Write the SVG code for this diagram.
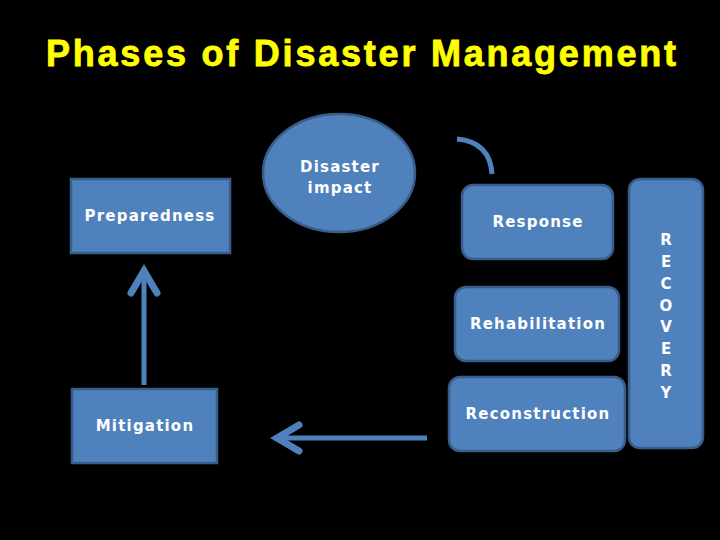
<svg xmlns="http://www.w3.org/2000/svg" width="720" height="540" viewBox="0 0 720 540">
<style>
.box{fill:#4f81bd;stroke:#385d8a;stroke-width:2.5}
.lbl{font-family:"DejaVu Sans",Verdana,sans-serif;font-weight:bold;font-size:15px;fill:#ffffff;text-anchor:middle;letter-spacing:1.2px}
.rec{font-family:"DejaVu Sans",Verdana,sans-serif;font-weight:bold;font-size:15px;fill:#ffffff;text-anchor:middle}
.conn{fill:none;stroke:#4f81bd;stroke-width:5}
</style>
<defs>
<marker id="chev" markerUnits="userSpaceOnUse" viewBox="-34 -20 40 40" markerWidth="40" markerHeight="40" refX="0" refY="0" orient="auto">
<path d="M-25,-13 L-3,0 L-25,13" fill="none" stroke="#4f81bd" stroke-width="7" stroke-linejoin="miter" stroke-linecap="round"/>
</marker>
</defs>
<rect x="0" y="0" width="720" height="540" fill="#000000"/>
<text x="361" y="66" font-family="'Liberation Sans',Arial,sans-serif" font-weight="bold" font-size="36" fill="#ffff00" stroke="#ffff00" stroke-width="0.8" text-anchor="middle" textLength="630" lengthAdjust="spacing">Phases of Disaster Management</text>
<g id="connectors">
<path class="conn" d="M144,385 L144,268" marker-end="url(#chev)"/>
<path class="conn" d="M427,438 L274,438" marker-end="url(#chev)"/>
<path class="conn" d="M457,139 Q490,142 492,174"/>
</g>
<g id="preparedness">
<rect class="box" x="71" y="179" width="159" height="74"/>
<text class="lbl" x="150" y="221">Preparedness</text>
</g>
<g id="disaster-impact">
<ellipse class="box" cx="339" cy="173" rx="76" ry="59"/>
<text class="lbl" x="340" y="172">Disaster</text>
<text class="lbl" x="340" y="193">impact</text>
</g>
<g id="response">
<rect class="box" x="462" y="185" width="151" height="74" rx="11"/>
<text class="lbl" x="538" y="227">Response</text>
</g>
<g id="rehabilitation">
<rect class="box" x="455" y="287" width="164" height="74" rx="11"/>
<text class="lbl" x="538" y="329">Rehabilitation</text>
</g>
<g id="reconstruction">
<rect class="box" x="449" y="377" width="176" height="74" rx="11"/>
<text class="lbl" x="538" y="419">Reconstruction</text>
</g>
<g id="recovery">
<rect class="box" x="629" y="179" width="74" height="269" rx="11"/>
<text class="rec" x="666" y="245">R</text>
<text class="rec" x="666" y="267">E</text>
<text class="rec" x="666" y="289">C</text>
<text class="rec" x="666" y="311">O</text>
<text class="rec" x="666" y="332">V</text>
<text class="rec" x="666" y="354">E</text>
<text class="rec" x="666" y="376">R</text>
<text class="rec" x="666" y="398">Y</text>
</g>
<g id="mitigation">
<rect class="box" x="72" y="389" width="145" height="74"/>
<text class="lbl" x="145" y="431">Mitigation</text>
</g>
</svg>
